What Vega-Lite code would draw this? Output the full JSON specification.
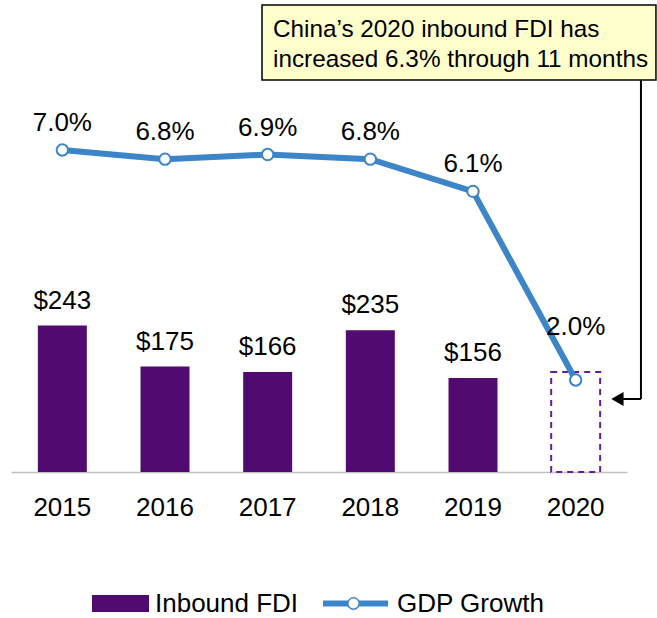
{
  "$schema": "https://vega.github.io/schema/vega-lite/v6.json",
  "width": 616,
  "height": 472,
  "autosize": {"type": "none"},
  "padding": {"left": 11, "top": 0, "right": 30, "bottom": 146},
  "background": "white",
  "config": {"view": {"stroke": null}, "font": "Liberation Sans"},
  "data": {"values": [
    {"year": "2015", "fdi": 243, "fdi_est": null, "gdp": 0.070},
    {"year": "2016", "fdi": 175, "fdi_est": null, "gdp": 0.068},
    {"year": "2017", "fdi": 166, "fdi_est": null, "gdp": 0.069},
    {"year": "2018", "fdi": 235, "fdi_est": null, "gdp": 0.068},
    {"year": "2019", "fdi": 156, "fdi_est": null, "gdp": 0.061},
    {"year": "2020", "fdi": null, "fdi_est": 166, "gdp": 0.020}
  ]},
  "layer": [
    {
      "layer": [
        {
          "layer": [
            {
              "transform": [{"filter": "datum.fdi != null"}],
              "mark": {"type": "bar"},
              "encoding": {
                "x": {"field": "year", "type": "nominal",
                  "scale": {"domain": ["2015", "2016", "2017", "2018", "2019", "2020"], "paddingInner": 0.523, "paddingOuter": 0.2615},
                  "axis": {"title": null, "labelAngle": 0, "labelFontSize": 26, "labelFont": "Liberation Sans", "labelColor": "black", "ticks": false, "tickSize": 0, "labelPadding": 22, "domainColor": "#BFBFBF", "domainWidth": 1.5}},
                "y": {"field": "fdi", "type": "quantitative", "scale": {"domain": [0, 783], "nice": false}, "axis": null},
                "fill": {"datum": "Inbound FDI", "scale": {"range": ["#500A70"]},
                  "legend": {"orient": "none", "legendX": 81, "legendY": 575, "title": null, "symbolType": "M-1,-0.3H1V0.3H-1Z", "symbolSize": 3249, "symbolStrokeWidth": 0, "labelFontSize": 26, "labelFont": "Liberation Sans", "labelColor": "black", "labelOffset": 6}}
              }
            },
            {
              "transform": [{"filter": "datum.fdi_est != null"}],
              "mark": {"type": "bar", "fill": "transparent", "stroke": "#6A1E96", "strokeWidth": 2, "strokeDash": [6, 5]},
              "encoding": {
                "x": {"field": "year", "type": "nominal"},
                "y": {"field": "fdi_est", "type": "quantitative"}
              }
            },
            {
              "transform": [{"filter": "datum.fdi != null"}],
              "mark": {"type": "text", "fontSize": 26, "font": "Liberation Sans", "color": "black", "baseline": "alphabetic", "dy": -17},
              "encoding": {
                "x": {"field": "year", "type": "nominal"},
                "y": {"field": "fdi", "type": "quantitative"},
                "text": {"field": "fdi", "type": "quantitative", "format": "$.0f"}
              }
            }
          ]
        },
        {
          "layer": [
            {
              "mark": {"type": "line", "strokeWidth": 6},
              "encoding": {
                "x": {"field": "year", "type": "nominal"},
                "y": {"field": "gdp", "type": "quantitative", "scale": {"domain": [0, 0.1026], "nice": false}, "axis": null},
                "stroke": {"datum": "GDP Growth", "scale": {"range": ["#3C85C8"]},
                  "legend": {"orient": "none", "legendX": 309, "legendY": 568, "title": null, "symbolType": "stroke", "symbolSize": 4225, "symbolStrokeWidth": 6, "symbolDash": [1, 0], "labelFontSize": 26, "labelFont": "Liberation Sans", "labelColor": "black", "labelOffset": 6}}
              }
            },
            {
              "mark": {"type": "point", "filled": true, "fill": "white", "stroke": "#3C85C8", "strokeWidth": 2, "size": 130, "opacity": 1},
              "encoding": {
                "x": {"field": "year", "type": "nominal"},
                "y": {"field": "gdp", "type": "quantitative"},
                "shape": {"datum": "pts", "scale": {"range": ["circle"]},
                  "legend": {"orient": "none", "legendX": 336, "legendY": 597, "title": null, "symbolSize": 130, "labelExpr": "''", "labelFontSize": 1,
                    "encode": {"symbols": {"update": {"fill": {"value": "white"}, "stroke": {"value": "#3C85C8"}, "strokeWidth": {"value": 2}, "opacity": {"value": 1}}}}}}
              }
            },
            {
              "transform": [{"filter": "datum.year != '2020'"}],
              "mark": {"type": "text", "fontSize": 26, "font": "Liberation Sans", "color": "black", "baseline": "alphabetic", "dy": -19},
              "encoding": {
                "x": {"field": "year", "type": "nominal"},
                "y": {"field": "gdp", "type": "quantitative"},
                "text": {"field": "gdp", "type": "quantitative", "format": ".1%"}
              }
            },
            {
              "transform": [{"filter": "datum.year == '2020'"}],
              "mark": {"type": "text", "fontSize": 26, "font": "Liberation Sans", "color": "black", "baseline": "alphabetic", "dy": -45},
              "encoding": {
                "x": {"field": "year", "type": "nominal"},
                "y": {"field": "gdp", "type": "quantitative"},
                "text": {"field": "gdp", "type": "quantitative", "format": ".1%"}
              }
            }
          ]
        }
      ],
      "resolve": {"scale": {"y": "independent"}}
    },
    {
      "data": {"values": [{"note": "China’s 2020 inbound FDI has\nincreased 6.3% through 11 months"}]},
      "layer": [
        {
          "mark": {"type": "rect", "fill": "#FFFFCC", "stroke": "black", "strokeWidth": 1.5},
          "encoding": {
            "x": {"datum": 2.445, "type": "quantitative", "scale": {"domain": [0, 6], "nice": false}, "axis": null},
            "x2": {"datum": 6.282},
            "y": {"datum": 774.7, "type": "quantitative", "scale": {"domain": [0, 783], "nice": false}, "axis": null},
            "y2": {"datum": 650.3}
          }
        },
        {
          "mark": {"type": "text", "align": "left", "baseline": "middle", "fontSize": 24.3, "font": "Liberation Sans", "color": "black", "lineBreak": "\n", "lineHeight": 30},
          "encoding": {
            "x": {"datum": 2.552, "type": "quantitative"},
            "y": {"datum": 733.3, "type": "quantitative"},
            "text": {"field": "note"}
          }
        },
        {
          "mark": {"type": "rule", "color": "black", "strokeWidth": 2},
          "encoding": {
            "x": {"datum": 6.136, "type": "quantitative"},
            "y": {"datum": 650.3, "type": "quantitative"},
            "y2": {"datum": 121.1}
          }
        },
        {
          "mark": {"type": "rule", "color": "black", "strokeWidth": 2},
          "encoding": {
            "x": {"datum": 6.136, "type": "quantitative"},
            "x2": {"datum": 5.95},
            "y": {"datum": 121.1, "type": "quantitative"}
          }
        },
        {
          "mark": {"type": "point", "shape": "triangle-left", "filled": true, "color": "black", "size": 200, "opacity": 1},
          "encoding": {
            "x": {"datum": 5.907, "type": "quantitative"},
            "y": {"datum": 121.1, "type": "quantitative"}
          }
        }
      ]
    }
  ],
  "resolve": {"scale": {"x": "independent", "y": "independent"}}
}
